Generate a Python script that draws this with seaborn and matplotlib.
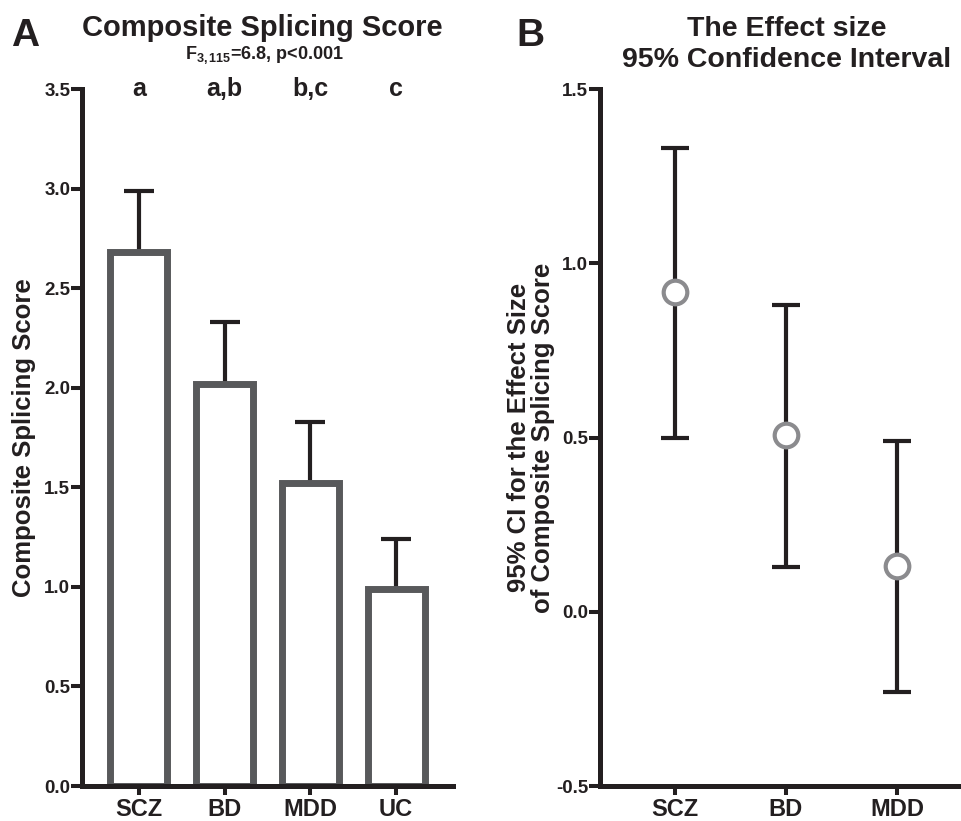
import numpy as np
import pandas as pd
import matplotlib
matplotlib.use("Agg")
import matplotlib.pyplot as plt
import matplotlib.transforms as mtransforms
import seaborn as sns

# ---- data ----
groups_a = ["SCZ", "BD", "MDD", "UC"]
score_mean = [2.68, 2.02, 1.52, 0.99]
score_sem = [0.31, 0.31, 0.31, 0.25]
sig_letters = ["a", "a,b", "b,c", "c"]
yticks_a = [0.0, 0.5, 1.0, 1.5, 2.0, 2.5, 3.0, 3.5]

groups_b = ["SCZ", "BD", "MDD"]
effect = [0.917, 0.507, 0.132]
ci_low = [0.50, 0.127, -0.231]
ci_high = [1.33, 0.88, 0.49]
yticks_b = [-0.5, 0.0, 0.5, 1.0, 1.5]

sns.set_theme(style="ticks")
plt.rcParams["font.family"] = ["Liberation Sans", "DejaVu Sans"]
plt.rcParams["font.weight"] = "bold"
plt.rcParams["mathtext.fontset"] = "custom"
plt.rcParams["mathtext.rm"] = "Liberation Sans:bold"
plt.rcParams["mathtext.bf"] = "Liberation Sans:bold"
plt.rcParams["mathtext.it"] = "Liberation Sans:bold"

DARK = "#231f20"
BAR_EDGE = "#58595b"
CIRC = "#8b8b8e"

W, H = 962, 821
fig = plt.figure(figsize=(W / 100, H / 100), dpi=100)

def px_axes(l, t, r, b):
    return fig.add_axes([l / W, 1 - b / H, (r - l) / W, (b - t) / H])

axA = px_axes(82, 89, 453, 786)
axB = px_axes(600, 89, 962, 786)

# ---- Panel A ----
dfa = pd.DataFrame({"group": groups_a, "score": score_mean})
sns.barplot(data=dfa, x="group", y="score", color="white", edgecolor=BAR_EDGE,
            linewidth=5, width=0.665, errorbar=None, saturation=1, ax=axA, zorder=2)
xa = np.arange(len(groups_a))
axA.errorbar(xa, score_mean, yerr=[np.zeros(len(xa)), score_sem], fmt="none",
             ecolor=DARK, elinewidth=3, capsize=11, capthick=3, zorder=1)
axA.set_xlim(-0.665, 3.665)
axA.set_ylim(0, 3.5)
axA.set_yticks(yticks_a)
axA.set_yticklabels([f"{v:.1f}" for v in yticks_a])
axA.set_xlabel("")
axA.set_ylabel("Composite Splicing Score", fontsize=18.5, fontweight="bold", color=DARK)
axA.yaxis.set_label_coords(-0.124, 0.5)
trA = mtransforms.blended_transform_factory(axA.transData, axA.transAxes)
for i, lab in enumerate(sig_letters):
    axA.text(i, 1.0, lab, transform=trA, ha="center", va="center",
             fontsize=18, fontweight="bold", color=DARK, clip_on=False)

# ---- Panel B ----
dfb = pd.DataFrame({"group": groups_b, "effect": effect})
xb = np.arange(len(groups_b))
axB.errorbar(xb, effect,
             yerr=[np.array(effect) - np.array(ci_low), np.array(ci_high) - np.array(effect)],
             fmt="none", ecolor=DARK, elinewidth=3, capsize=10, capthick=3, zorder=1)
sns.stripplot(data=dfb, x="group", y="effect", jitter=False, color="white",
              edgecolor=CIRC, linewidth=3, size=17, ax=axB, zorder=3)
axB.set_xlim(-0.676, 2.586)
axB.set_ylim(-0.5, 1.5)
axB.set_yticks(yticks_b)
axB.set_yticklabels([f"{v:.1f}" for v in yticks_b])
axB.set_xlabel("")
axB.set_ylabel("95% CI for the Effect Size\nof Composite Splicing Score",
               fontsize=18.5, fontweight="bold", color=DARK, linespacing=1.0)
axB.yaxis.set_label_coords(-0.124, 0.5)

for ax in (axA, axB):
    sns.despine(ax=ax)
    for s in ("left", "bottom"):
        ax.spines[s].set_linewidth(3.6)
        ax.spines[s].set_color(DARK)
    ax.tick_params(axis="both", direction="out", color=DARK, width=2.9)
    ax.tick_params(axis="y", labelsize=13.5, pad=0.5, length=8, labelcolor=DARK)
    ax.tick_params(axis="x", labelsize=17, pad=2, length=6.5, labelcolor=DARK)
    for t in ax.get_xticklabels() + ax.get_yticklabels():
        t.set_fontweight("bold")
    ax.set_facecolor("white")

# ---- titles and panel letters ----
def ftext(x, y, s, **kw):
    fig.text(x / W, 1 - y / H, s, **kw)

ftext(25, 46, "A", fontsize=28, fontweight="bold", ha="center", va="baseline", color=DARK)
ftext(530, 46, "B", fontsize=28, fontweight="bold", ha="center", va="baseline", color=DARK)
ftext(262, 36, "Composite Splicing Score", fontsize=21, fontweight="bold",
      ha="center", va="baseline", color=DARK)
ftext(265, 59, r"F$_{3,115}$=6.8, p<0.001", fontsize=13, fontweight="bold",
      ha="center", va="baseline", color=DARK)
ftext(787, 36, "The Effect size", fontsize=20.5, fontweight="bold",
      ha="center", va="baseline", color=DARK)
ftext(787, 67, "95% Confidence Interval", fontsize=20.5, fontweight="bold",
      ha="center", va="baseline", color=DARK)

fig.savefig("out.png", dpi=100, facecolor="white")
